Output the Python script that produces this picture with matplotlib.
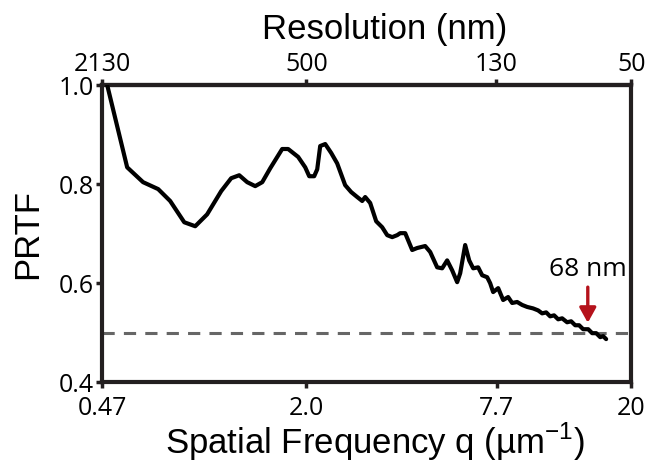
import numpy as np
import matplotlib
matplotlib.use('Agg')
import matplotlib.pyplot as plt

plt.rcParams['mathtext.fontset'] = 'custom'
plt.rcParams['mathtext.rm'] = 'Liberation Sans'

# spatial frequency q (um^-1) and PRTF
q = [0.487, 0.561, 0.628, 0.699, 0.761, 0.841, 0.909, 0.989, 1.093, 1.173,
     1.242, 1.314, 1.391, 1.462, 1.547, 1.684, 1.757, 1.886, 1.983, 2.040,
     2.113, 2.159, 2.205, 2.285, 2.384, 2.487, 2.632, 2.747, 2.867, 2.970,
     3.034, 3.143, 3.280, 3.422, 3.546, 3.674, 3.807, 3.888, 4.029, 4.234,
     4.385, 4.642, 4.810, 5.054, 5.236, 5.425, 5.621, 5.824, 5.950, 6.164,
     6.342, 6.524, 6.759, 6.954, 7.205, 7.359, 7.517, 7.789, 8.069, 8.360,
     8.601, 8.912, 9.234, 9.566, 9.98, 10.34, 10.64, 10.95, 11.26, 11.58,
     11.92, 12.26, 12.70, 13.07, 13.45, 13.83, 14.23, 14.75, 15.17, 15.61,
     16.06, 16.40, 16.75]
prtf = [1.000, 0.834, 0.804, 0.790, 0.766, 0.723, 0.715, 0.739, 0.786, 0.812,
        0.818, 0.804, 0.796, 0.804, 0.832, 0.871, 0.871, 0.855, 0.834, 0.816,
        0.816, 0.830, 0.877, 0.881, 0.863, 0.842, 0.798, 0.784, 0.774, 0.766,
        0.774, 0.762, 0.725, 0.713, 0.697, 0.693, 0.697, 0.701, 0.701, 0.667,
        0.671, 0.675, 0.663, 0.632, 0.630, 0.646, 0.626, 0.602, 0.620, 0.677,
        0.646, 0.630, 0.632, 0.616, 0.612, 0.600, 0.582, 0.590, 0.566, 0.572,
        0.560, 0.562, 0.556, 0.552, 0.549, 0.545, 0.539, 0.541, 0.533, 0.535,
        0.527, 0.529, 0.521, 0.523, 0.515, 0.515, 0.507, 0.507, 0.499, 0.499,
        0.491, 0.493, 0.487]

q_ticks = [0.47, 2.0, 7.7, 20]
q_labels = ['0.47', '2.0', '7.7', '20']
res_ticks = [2130, 500, 130, 50]
res_labels = ['2130', '500', '130', '50']
y_ticks = [0.4, 0.6, 0.8, 1.0]
y_labels = ['0.4', '0.6', '0.8', '1.0']
threshold = 0.5
cutoff_q = 1000 / 68.0

label_font = 'Liberation Sans'
tick_font = 'Open Sans'
spine_col = '#231f20'

fig = plt.figure(figsize=(6.5, 4.73), dpi=100)
ax = fig.add_axes([0.157, 0.192, 0.814, 0.628])

ax.plot(q, prtf, color='black', lw=3, solid_joinstyle='round',
        solid_capstyle='round', zorder=3)
ax.axhline(threshold, color='#666666', lw=2.2, dashes=(4, 3), zorder=2)

ax.annotate('', xy=(cutoff_q, 0.520), xytext=(cutoff_q, 0.592),
            arrowprops=dict(arrowstyle='-|>,head_width=0.5,head_length=0.9',
                            color='#b5121b', lw=2.4, shrinkA=0, shrinkB=0))
ax.text(cutoff_q, 0.603, '68 nm', ha='center', va='bottom',
        fontsize=19, family=tick_font)

ax.set_xscale('log')
ax.set_xlim(1000 / 2130, 20)
ax.set_ylim(0.4, 1.0)
ax.set_xticks(q_ticks, labels=q_labels)
ax.minorticks_off()
ax.set_yticks(y_ticks, labels=y_labels)

top = ax.secondary_xaxis('top', functions=(lambda x: 1000 / x, lambda x: 1000 / x))
top.set_xticks(res_ticks, labels=res_labels)
top.minorticks_off()
top.set_xlabel('Resolution (nm)', fontsize=25, family=label_font, labelpad=9)
top.xaxis.label.set_x(0.535)

for a in (ax, top):
    a.tick_params(direction='out', length=4, width=2.5, color=spine_col,
                  labelsize=18, pad=2)
    for lab in a.get_xticklabels() + a.get_yticklabels():
        lab.set_family(tick_font)
    for s in a.spines.values():
        s.set_linewidth(3)
        s.set_color(spine_col)
ax.tick_params(axis='x', pad=6)

ax.set_xlabel(r'Spatial Frequency q (µm$^{\mathrm{-1}}$)', fontsize=25,
              family=label_font, labelpad=0)
ax.xaxis.label.set_x(0.515)
ax.set_ylabel('PRTF', fontsize=25, family=label_font, labelpad=10)

fig.savefig('out.png', dpi=100)
